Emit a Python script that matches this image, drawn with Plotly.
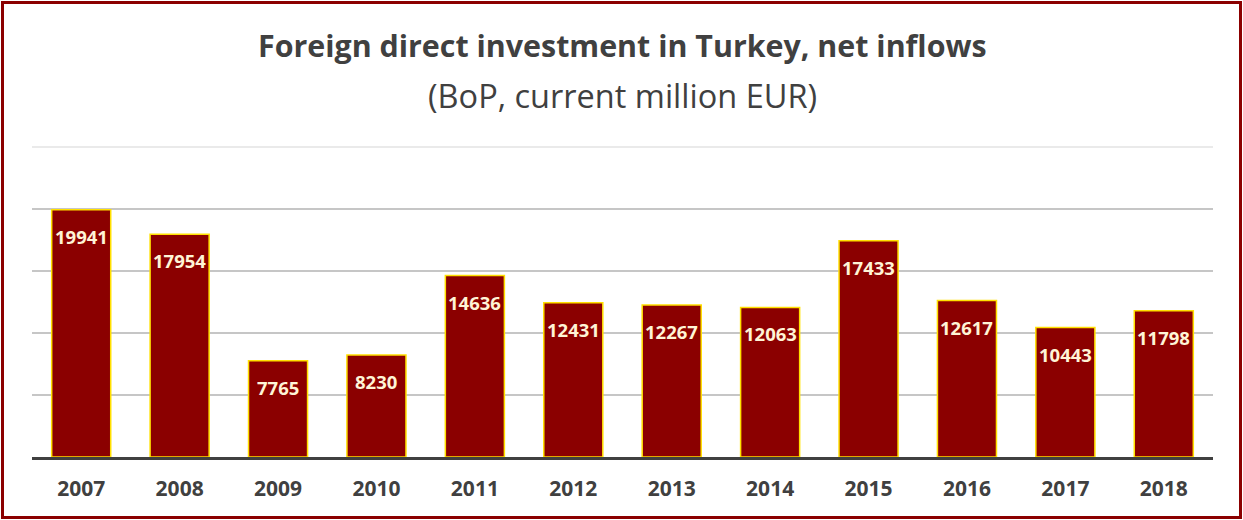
import plotly.graph_objects as go

years = ["2007", "2008", "2009", "2010", "2011", "2012", "2013", "2014", "2015", "2016", "2017", "2018"]
values = [19941, 17954, 7765, 8230, 14636, 12431, 12267, 12063, 17433, 12617, 10443, 11798]
grid_vals = [5000, 10000, 15000, 20000]

W, H = 1243, 520
ML, MR, MT, MB = 32, 30, 147, 63
PW, PH = W - ML - MR, H - MT - MB

def px_x(p):
    return (p - ML) / PW

def px_y(p):
    return (H - MB - p) / PH

fig = go.Figure()
fig.add_trace(go.Bar(
    x=years, y=values,
    marker=dict(color="#8B0000", line=dict(color="#FFE000", width=1.5)),
    hoverinfo="x+y",
))

annotations = []
for i, v in enumerate(values):
    annotations.append(dict(
        x=i, y=v, xref="x", yref="y", text=f"<b>{v}</b>", showarrow=False,
        yanchor="top", yshift=-12,
        font=dict(family="Open Sans", size=18.5, color="#FFF4D6"),
    ))

annotations.append(dict(
    x=0.5, y=px_y(46), xref="paper", yref="paper", xanchor="center", yanchor="middle",
    text="<b>Foreign direct investment in Turkey, net inflows</b>", showarrow=False,
    font=dict(family="Open Sans", size=30.4, color="#404040"),
))
annotations.append(dict(
    x=0.5, y=px_y(95), xref="paper", yref="paper", xanchor="center", yanchor="middle",
    text="(BoP, current million EUR)", showarrow=False,
    font=dict(family="Open Sans", size=32.5, color="#404040"),
))

shapes = [
    dict(type="line", xref="paper", yref="paper", x0=0, x1=1, y0=1, y1=1,
         line=dict(color="#E3E3E3", width=1.5), layer="below"),
    dict(type="rect", xref="paper", yref="paper",
         x0=px_x(2.5), x1=px_x(1240.5), y0=px_y(517.5), y1=px_y(2.5),
         line=dict(color="#8B0000", width=3)),
]

fig.update_layout(
    width=W, height=H,
    margin=dict(l=ML, r=MR, t=MT, b=MB),
    paper_bgcolor="white", plot_bgcolor="white",
    bargap=0.4,
    showlegend=False,
    annotations=annotations,
    shapes=shapes,
    xaxis=dict(
        type="category", range=[-0.5, len(years) - 0.5],
        showline=True, linecolor="#404040", linewidth=3,
        ticks="", ticklabelstandoff=11,
        tickfont=dict(family="Open Sans", size=21, color="#404040", weight="bold"),
        showgrid=False,
    ),
    yaxis=dict(
        range=[0, 25000], tickvals=grid_vals, showticklabels=False,
        showgrid=True, gridcolor="#C6C6C6", gridwidth=1.5, zeroline=False,
        fixedrange=True,
    ),
)

fig.write_html("out.html", config={"displayModeBar": False},
               post_script="document.body.style.margin='0';")
